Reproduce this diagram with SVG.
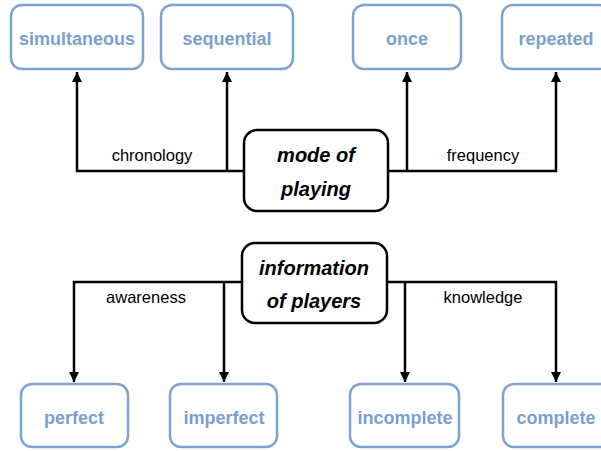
<svg xmlns="http://www.w3.org/2000/svg" width="601" height="451" viewBox="0 0 601 451">
<defs>
<style>
.leaf rect{fill:#fff;stroke:#7ea3d3;stroke-width:2.5}
.leaf text{font-family:"Liberation Sans",Arial,sans-serif;font-weight:bold;font-size:18px;fill:#7a9fd0;text-anchor:middle}
.main rect{fill:#fff;stroke:#000;stroke-width:2.5}
.main text{font-family:"Liberation Sans",Arial,sans-serif;font-weight:bold;font-style:italic;font-size:20px;fill:#000;text-anchor:middle}
.conn path{fill:none;stroke:#000;stroke-width:2.5}
.lbl{font-family:"Liberation Sans",Arial,sans-serif;font-size:16.5px;fill:#000;text-anchor:middle}
</style>
<marker id="ah" viewBox="0 0 10 10" refX="10" refY="5" markerWidth="4" markerHeight="4" markerUnits="strokeWidth" orient="auto">
<path d="M0,0 L10,5 L0,10 z" fill="#000"/>
</marker>
</defs>
<rect width="601" height="451" fill="#fff"/>
<g class="conn">
<path d="M244,171 H77 V72" marker-end="url(#ah)"/>
<path d="M227,171 V72" marker-end="url(#ah)"/>
<path d="M388,171 H556 V72" marker-end="url(#ah)"/>
<path d="M407,171 V72" marker-end="url(#ah)"/>
<path d="M242,282 H74 V382" marker-end="url(#ah)"/>
<path d="M224,282 V382" marker-end="url(#ah)"/>
<path d="M387,282 H556 V382" marker-end="url(#ah)"/>
<path d="M405,282 V382" marker-end="url(#ah)"/>
<text class="lbl" x="152" y="161">chronology</text>
<text class="lbl" x="483" y="161">frequency</text>
<text class="lbl" x="146" y="303">awareness</text>
<text class="lbl" x="483" y="303">knowledge</text>
</g>
<g id="simultaneous" class="leaf"><rect x="11" y="5" width="132" height="64" rx="11"/><text x="77" y="45">simultaneous</text></g>
<g id="sequential" class="leaf"><rect x="161" y="5" width="132" height="64" rx="11"/><text x="227" y="45">sequential</text></g>
<g id="once" class="leaf"><rect x="353" y="5" width="108" height="64" rx="11"/><text x="407" y="45">once</text></g>
<g id="repeated" class="leaf"><rect x="502" y="5" width="108" height="64" rx="11"/><text x="556" y="45">repeated</text></g>
<g id="mode" class="main"><rect x="244" y="130" width="144" height="81" rx="13"/><text x="316" y="162">mode of</text><text x="316" y="196">playing</text></g>
<g id="information" class="main"><rect x="242" y="243" width="145" height="80" rx="13"/><text x="314" y="275">information</text><text x="314" y="308">of players</text></g>
<g id="perfect" class="leaf"><rect x="21" y="384" width="107" height="63" rx="11"/><text x="74" y="424">perfect</text></g>
<g id="imperfect" class="leaf"><rect x="170" y="384" width="107" height="63" rx="11"/><text x="224" y="424">imperfect</text></g>
<g id="incomplete" class="leaf"><rect x="350" y="384" width="109" height="63" rx="11"/><text x="405" y="424">incomplete</text></g>
<g id="complete" class="leaf"><rect x="503" y="384" width="108" height="63" rx="11"/><text x="556" y="424">complete</text></g>
</svg>
